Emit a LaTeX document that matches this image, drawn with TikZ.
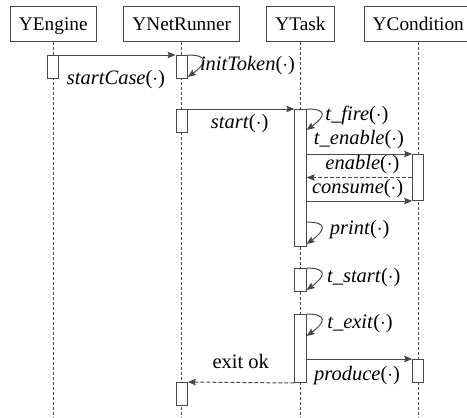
\documentclass[tikz,border=0pt]{standalone}
\usepackage{fontspec}
\setmainfont{Liberation Serif}
\usetikzlibrary{arrows.meta,calc}

\begin{document}
\begin{tikzpicture}[x=1pt,y=-1pt,
  ink/.style={draw=black!72, line width=1pt},
  header/.style={ink, fill=white, inner xsep=8.5pt, inner ysep=0pt,
    minimum height=35pt, text height=13pt, text depth=0pt,
    font=\fontsize{19.3}{22}\selectfont, anchor=north},
  lifeline/.style={ink, dash pattern=on 3pt off 2pt},
  actbar/.style={ink, fill=white, minimum width=11.3pt, inner sep=0pt, anchor=north},
  msg/.style={ink, -{Stealth[length=8pt,width=6.5pt,inset=1.2pt]}},
  reply/.style={msg, dash pattern=on 4pt off 2pt},
  selfloop/.style={msg},
  lbl/.style={font=\fontsize{20.5}{23}\selectfont, anchor=base, inner sep=0pt},
]
\useasboundingbox (0,0) rectangle (467,418);
\clip (0,0) rectangle (467,418);

% participants
\node[header] (hE) at (53.3,6)  {YEngine};
\node[header] (hN) at (181.7,6) {YNetRunner};
\node[header] (hT) at (300.5,6) {YTask};
\node[header] (hC) at (418.3,6) {YCondition};

% lifelines
\coordinate (endE) at (53.3,420);
\coordinate (endN) at (181.7,420);
\coordinate (endT) at (300.5,420);
\coordinate (endC) at (418.3,420);
\draw[lifeline] (hE.south) -- (endE);
\draw[lifeline] (hN.south) -- (endN);
\draw[lifeline] (hT.south) -- (endT);
\draw[lifeline] (hC.south) -- (endC);

% activation bars
\node[actbar, minimum height=23pt]   (e1) at (53.3,55)   {};
\node[actbar, minimum height=23pt]   (n1) at (181.7,55)  {};
\node[actbar, minimum height=23pt]   (n2) at (181.7,109) {};
\node[actbar, minimum height=23pt]   (n3) at (181.7,382) {};
\node[actbar, minimum height=137pt]  (t1) at (300.5,109) {};
\node[actbar, minimum height=23pt]   (t2) at (300.5,268) {};
\node[actbar, minimum height=68pt]   (t3) at (300.5,314) {};
\node[actbar, minimum height=46pt]   (c1) at (418.3,154) {};
\node[actbar, minimum height=23pt]   (c2) at (418.3,359) {};

% messages
\draw[msg] (e1.north east) -- (n1.north west);
\draw[msg] (n2.north east) -- (t1.north west);
\draw[msg] (c1.north west -| t1.east) -- (c1.north west);
\draw[reply] (c1.west) -- (c1.west -| t1.east);
\draw[msg] (c1.south west -| t1.east) -- (c1.south west);
\draw[msg] (c2.north west -| t3.east) -- (c2.north west);
\draw[reply] (t3.south west) -- (n3.north east);

% self calls
\coordinate (prA) at (t1.east |- 0,222);
\coordinate (prB) at (t1.east |- 0,244);
\coordinate (fiB) at (t1.east |- 0,130);
\coordinate (inB) at (n1.east |- 0,77);
\coordinate (stB) at (t2.east |- 0,290);
\coordinate (exB) at (t3.east |- 0,336);
\draw[selfloop] (n1.north east) .. controls +(22,0) and +(18,-13) .. (inB);
\draw[selfloop] (t1.north east) .. controls +(22,0) and +(18,-13) .. (fiB);
\draw[selfloop] (prA) .. controls +(22,0) and +(18,-13) .. (prB);
\draw[selfloop] (t2.north east) .. controls +(22,0) and +(18,-13) .. (stB);
\draw[selfloop] (t3.north east) .. controls +(22,0) and +(18,-13) .. (exB);

% labels
\node[lbl] (lSC) at (116,84.5)  {\textit{startCase}(\(\cdot\))};
\node[lbl] (lIT) at (247.5,70)  {\textit{initToken}(\(\cdot\))};
\node[lbl] (lST) at (239.7,128) {\textit{start}(\(\cdot\))};
\node[lbl] (lTF) at (357,120)   {\textit{t\_fire}(\(\cdot\))};
\node[lbl] (lTE) at (359,144)   {\textit{t\_enable}(\(\cdot\))};
\node[lbl] (lEN) at (362.5,169) {\textit{enable}(\(\cdot\))};
\node[lbl] (lCO) at (357.7,193) {\textit{consume}(\(\cdot\))};
\node[lbl] (lPR) at (359.7,234.5) {\textit{print}(\(\cdot\))};
\node[lbl] (lTS) at (363.8,282) {\textit{t\_start}(\(\cdot\))};
\node[lbl] (lTX) at (360,328)   {\textit{t\_exit}(\(\cdot\))};
\node[lbl] (lPD) at (357,380)   {\textit{produce}(\(\cdot\))};
\node[lbl] (lEX) at (240.8,368) {exit ok};
\end{tikzpicture}
\end{document}
